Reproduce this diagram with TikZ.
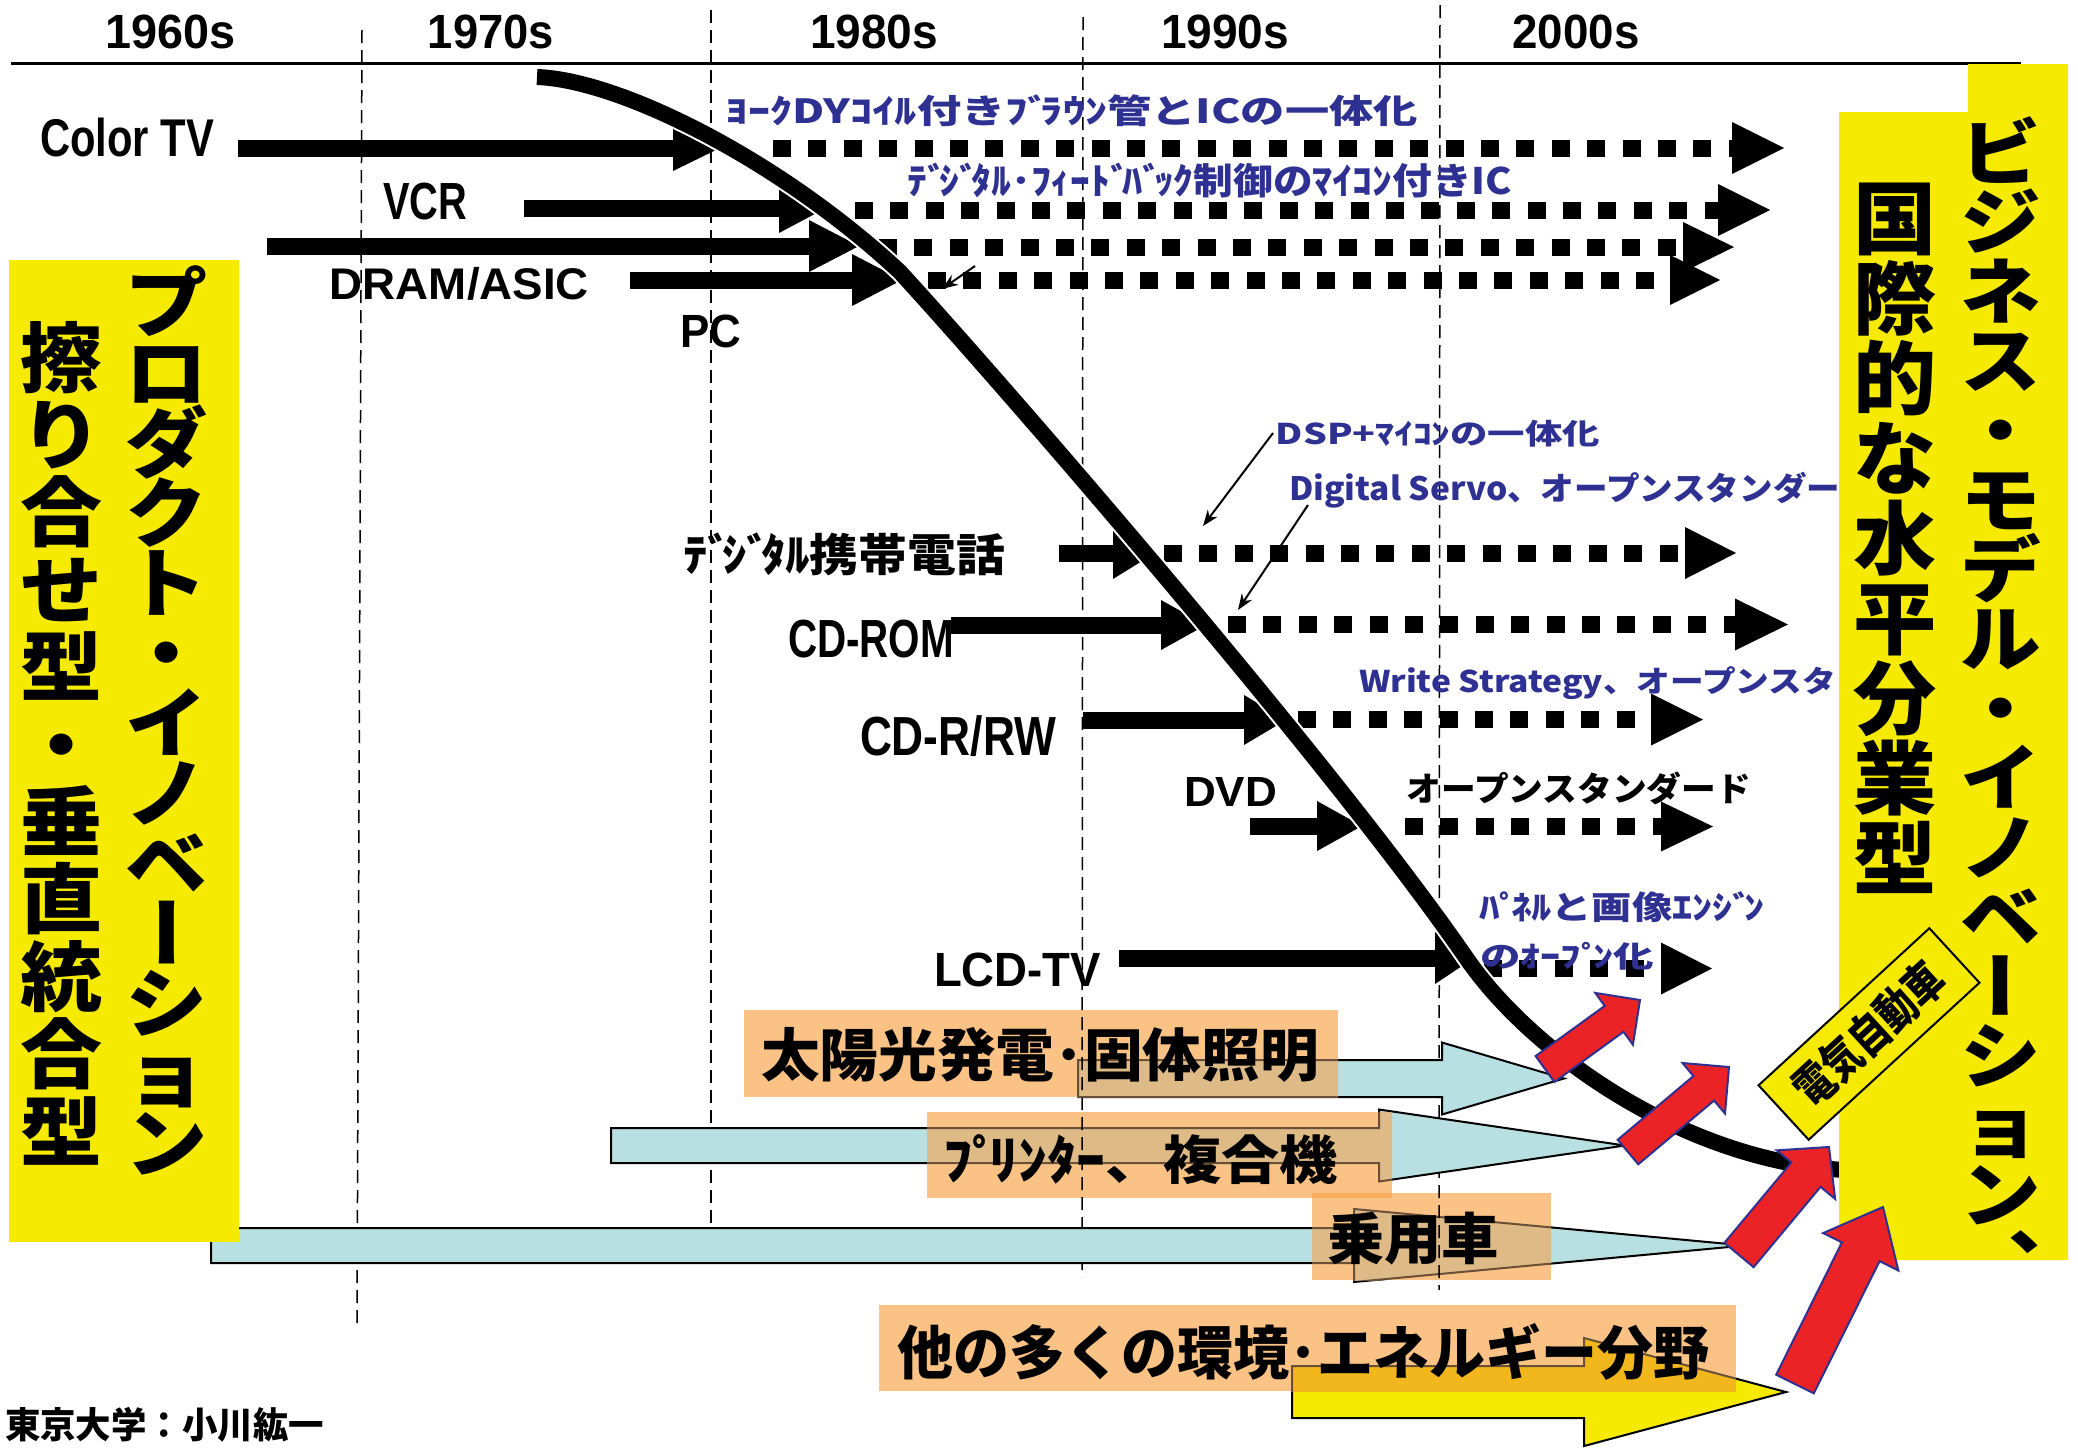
\documentclass[tikz,border=0pt]{standalone}
\usepackage{fontspec}
\setmainfont{Liberation Sans}
\newfontfamily\jp{Noto Sans CJK JP}
\usepackage{graphicx}
\usetikzlibrary{calc,arrows.meta}
\newlength\px \setlength\px{0.5pt}
\newcommand\rb[3]{\resizebox*{#1\px}{#2\px}{#3}}
\newcommand\vbar{\raisebox{0.38em}{\rotatebox[origin=c]{90}{\raisebox{-0.38em}[0.06em][0.06em]{ー}}}}
\newcommand\dk{ﾞ\kern-0.2em}
\newcommand\hk{ﾟ\kern-0.2em}
\definecolor{ybox}{RGB}{245,234,0}
\definecolor{jblue}{RGB}{46,49,146}
\definecolor{lblue}{RGB}{184,223,225}
\definecolor{orng}{RGB}{250,194,132}
\definecolor{ovtan}{RGB}{222,186,135}
\definecolor{ovyel}{RGB}{243,183,30}
\definecolor{brwn}{RGB}{105,80,55}
\definecolor{rred}{RGB}{236,35,38}
\definecolor{orngdk}{RGB}{248,172,92}
\newcommand\harrow[6]{({#1},{#4-#5}) -- ({#2},{#4-#5}) -- ({#2},{#4-#6}) -- ({#3},{#4}) -- ({#2},{#4+#6}) -- ({#2},{#4+#5}) -- ({#1},{#4+#5}) -- cycle}
\newcommand\solidarrow[5]{%
  \coordinate (#1s) at #2; \coordinate (#1h) at #3; \coordinate (#1t) at #4;
  \draw[shaft] (#1s) -- (#1h);
  \fill ($(#1h)+(0,-#5)$) -- (#1t) -- ($(#1h)+(0,#5)$) -- cycle;}
\newcommand\dotarrow[5]{%
  \coordinate (#1s) at #2; \coordinate (#1h) at #3; \coordinate (#1t) at #4;
  \draw[dshaft] (#1s) -- (#1h);
  \fill ($(#1h)+(0,-#5)$) -- (#1t) -- ($(#1h)+(0,#5)$) -- cycle;}
\newcommand\redarrow[6]{%
  \coordinate (#1T) at #2; \coordinate (#1P) at #3;
  \coordinate (#1B) at ($(#1P)!#6!(#1T)$);
  \draw[rarrow] ($(#1T)!#4!90:(#1P)$) -- ($(#1B)!#4!-90:(#1T)$) -- ($(#1B)!#5!-90:(#1T)$) -- (#1P) -- ($(#1B)!#5!90:(#1T)$) -- ($(#1B)!#4!90:(#1T)$) -- ($(#1T)!#4!-90:(#1P)$) -- cycle;}
\tikzset{
  lab/.style={inner sep=0pt, outer sep=0pt},
  vdash/.style={line width=0.75pt, dash pattern=on 6.5pt off 3.5pt},
  shaft/.style={line width=8.5pt},
  dshaft/.style={line width=8.5pt, dash pattern=on 9pt off 8.7pt},
  callout/.style={line width=1pt, -{Stealth[length=8pt,width=6pt]}},
  barrow/.style={fill=lblue, draw=black, line width=1pt},
  rarrow/.style={fill=rred, draw=jblue, line width=1pt, line join=miter},
  vtext/.style={lab, anchor=base},
}
\begin{document}
\begin{tikzpicture}[x=0.5pt,y=-0.5pt]
\useasboundingbox (0,0) rectangle (2078,1447);
\fill[white] (0,0) rectangle (2078,1447);

% decade separators
\coordinate (v1a) at (362,30);   \coordinate (v1b) at (357,1327);
\coordinate (v2a) at (711,10);   \coordinate (v2b) at (711,1268);
\coordinate (v3a) at (1083,17);  \coordinate (v3b) at (1082,1277);
\coordinate (v4a) at (1440,5);   \coordinate (v4b) at (1439,1290);
\draw[vdash] (v1a) -- (v1b);
\draw[vdash] (v2a) -- (v2b);
\draw[vdash] (v3a) -- (v3b);
\draw[vdash] (v4a) -- (v4b);

% top rule and decades
\coordinate (ruleL) at (11,63); \coordinate (ruleR) at (2021,63);
\draw[line width=1.5pt] (ruleL) -- (ruleR);
\node[lab] (d60) at (171,31.5) {\rb{130}{34}{\bfseries 1960s}};
\node[lab] (d70) at (491,31.5) {\rb{126}{34}{\bfseries 1970s}};
\node[lab] (d80) at (874,31.5) {\rb{128}{34}{\bfseries 1980s}};
\node[lab] (d90) at (1225,31.5) {\rb{128}{34}{\bfseries 1990s}};
\node[lab] (d00) at (1576,31.5) {\rb{127}{34}{\bfseries 2000s}};

% light blue and yellow block arrows
\draw[barrow] \harrow{1078}{1442}{1564}{1078.5}{18.5}{36};
\draw[barrow] \harrow{611}{1379}{1625}{1145.5}{17.5}{36};
\draw[barrow] \harrow{211}{1354}{1745}{1245.5}{17.5}{36.5};
\draw[fill=ybox, draw=black, line width=1pt] \harrow{1292}{1584}{1786}{1392}{26}{54};

% orange label boxes
\fill[orng] (744,1010) rectangle (1338,1097);
\fill[orng] (927,1112) rectangle (1392,1198);
\fill[orng] (1312,1193) rectangle (1551,1280);
\fill[orng] (879,1305) rectangle (1736,1391);
\fill[orngdk] (1312,1193) rectangle (1392,1198);
\begin{scope}
  \clip (744,1010) rectangle (1338,1097);
  \fill[ovtan] \harrow{1078}{1442}{1564}{1078.5}{18.5}{36};
  \draw[brwn, line width=1pt] \harrow{1078}{1442}{1564}{1078.5}{18.5}{36};
\end{scope}
\begin{scope}
  \clip (927,1112) rectangle (1392,1198);
  \fill[ovtan] \harrow{611}{1379}{1625}{1145.5}{17.5}{36};
  \draw[brwn, line width=1pt] \harrow{611}{1379}{1625}{1145.5}{17.5}{36};
\end{scope}
\begin{scope}
  \clip (1312,1193) rectangle (1551,1280);
  \fill[ovtan] \harrow{211}{1354}{1745}{1245.5}{17.5}{36.5};
  \draw[brwn, line width=1pt] \harrow{211}{1354}{1745}{1245.5}{17.5}{36.5};
\end{scope}
\begin{scope}
  \clip (879,1305) rectangle (1736,1391);
  \fill[ovyel] \harrow{1292}{1584}{1786}{1392}{26}{54};
  \draw[brwn, line width=1pt] \harrow{1292}{1584}{1786}{1392}{26}{54};
\end{scope}
\begin{scope}
  \clip (744,1010) rectangle (1338,1097) (927,1112) rectangle (1392,1198) (1312,1193) rectangle (1551,1280);
  \draw[vdash] (v3a) -- (v3b);
  \draw[vdash] (v4a) -- (v4b);
\end{scope}
\node[lab] (t1) at (1040,1054.5) {\rb{558}{55}{\jp\bfseries 太陽光発電･固体照明}};
\node[lab] (t2) at (1140.5,1160) {\rb{395}{50}{\jp\bfseries ﾌ\hk ﾘﾝﾀｰ、複合機}};
\node[lab] (t3) at (1413,1238.5) {\rb{172}{53}{\jp\bfseries 乗用車}};
\node[lab] (t4) at (1303,1351.5) {\rb{812}{57}{\jp\bfseries 他の多くの環境･エネルギー分野}};

% black arrows (solid part)
\solidarrow{r1}{(238,148)}{(673,148)}{(720,148)}{23}
\solidarrow{r2}{(524,208)}{(779,208)}{(826,208)}{25}
\solidarrow{r3}{(267,246)}{(809,246)}{(859,246)}{26}
\solidarrow{r4}{(630,280)}{(852,280)}{(902,280)}{26}
\solidarrow{r5}{(1059,553)}{(1113,553)}{(1155,553)}{26}
\solidarrow{r6}{(951,625)}{(1161,625)}{(1206,625)}{25}
\solidarrow{r7}{(1083,720)}{(1244,720)}{(1286,720)}{25}
\solidarrow{r8}{(1250,826)}{(1317,826)}{(1362,826)}{25}
\solidarrow{r9}{(1119,958)}{(1435,958)}{(1474,958)}{26}
% dotted continuations
\dotarrow{q1}{(773,148)}{(1732,148)}{(1784,148)}{26}
\dotarrow{q2}{(855,210)}{(1718,210)}{(1770,210)}{26}
\dotarrow{q3}{(879,247)}{(1683,247)}{(1734,247)}{25}
\dotarrow{q4}{(928,280)}{(1670,280)}{(1720,280)}{25}
\dotarrow{q5}{(1164,553)}{(1685,553)}{(1736,553)}{26}
\dotarrow{q6}{(1228,624.5)}{(1735,624.5)}{(1788,624.5)}{26}
\dotarrow{q7}{(1298,719.5)}{(1651,719.5)}{(1703,719.5)}{26}
\dotarrow{q8}{(1405,826.5)}{(1661,826.5)}{(1713,826.5)}{25}
\dotarrow{q9}{(1484,968.5)}{(1661,968.5)}{(1712,968.5)}{26}

% the big transition curve
\coordinate (cv0) at (537,77); \coordinate (cv1) at (900,272);
\coordinate (cv2) at (1467,959); \coordinate (cv3) at (1844,1170);
\draw[white, line width=10pt] (cv0) .. controls (620,80) and (780,160) .. (cv1) .. controls (990,370) and (1330,760) .. (cv2) .. controls (1530,1050) and (1680,1160) .. (cv3);
\draw[line width=8pt] (cv0) .. controls (620,80) and (780,160) .. (cv1) .. controls (990,370) and (1330,760) .. (cv2) .. controls (1530,1050) and (1680,1160) .. (cv3);

% black labels
\node[lab] (ctv) at (127,137.5) {\rb{174}{39}{\bfseries Color TV}};
\node[lab] (vcr) at (425,201.5) {\rb{84}{37}{\bfseries VCR}};
\node[lab] (dram) at (459.5,283.5) {\rb{259}{33}{\bfseries DRAM/ASIC}};
\node[lab] (pc) at (710.5,331.5) {\rb{61}{33}{\bfseries PC}};
\node[lab] (cell) at (844,554.5) {\rb{322}{43}{\jp\bfseries ﾃ\dk ｼ\dk ﾀﾙ携帯電話}};
\node[lab] (cdrom) at (871,639) {\rb{166}{38}{\bfseries CD-ROM}};
\node[lab] (cdrw) at (958,736.5) {\rb{196}{41}{\bfseries CD-R/RW}};
\node[lab] (dvd) at (1230.5,791.5) {\rb{93}{29}{\bfseries DVD}};
\node[lab] (lcd) at (1017.5,970) {\rb{167}{34}{\bfseries LCD-TV}};
\node[lab] (open) at (1579,788.5) {\rb{344}{33}{\jp\bfseries オープンスタンダード}};

% blue labels
\node[lab] (b1) at (1072,111) {\rb{692}{32}{\jp\bfseries\color{jblue}ﾖｰｸDYｺｲﾙ付きﾌ\dk ﾗｳﾝ管とICの一体化}};
\node[lab] (b2) at (1210,180.5) {\rb{604}{35}{\jp\bfseries\color{jblue}ﾃ\dk ｼ\dk ﾀﾙ･ﾌｨｰﾄ\dk ﾊ\dk ｯｸ制御のﾏｲｺﾝ付きIC}};
\node[lab] (b3) at (1438,433.5) {\rb{324}{27}{\jp\bfseries\color{jblue}DSP+ﾏｲｺﾝの一体化}};
\node[lab, anchor=west] (b4) at (1289,490) {\rb{551}{36}{\jp\bfseries\color{jblue}Digital Servo、オープンスタンダー}};
\node[lab, anchor=west] (b5) at (1359,683.5) {\rb{477}{33}{\jp\bfseries\color{jblue}Write Strategy、オープンスタ}};
\node[lab] (b6) at (1622,907.5) {\rb{286}{31}{\jp\bfseries\color{jblue}ﾊ\hk ﾈﾙと画像ｴﾝｼ\dk ﾝ}};
\node[lab] (b7) at (1567,956) {\rb{174}{28}{\jp\bfseries\color{jblue}のｵｰﾌ\hk ﾝ化}};

% callout arrows
\coordinate (c1a) at (1273,433); \coordinate (c1b) at (1203,526);
\coordinate (c2a) at (1308,505); \coordinate (c2b) at (1238,610);
\coordinate (c3a) at (975,266);  \coordinate (c3b) at (942,289);
\draw[callout] (c1a) -- (c1b);
\draw[callout] (c2a) -- (c2b);
\draw[callout] (c3a) -- (c3b);

% yellow boxes
\fill[ybox] (9,260) rectangle (239,1242);
\fill[ybox] (1968,64) -- (2068,64) -- (2068,1260) -- (1839,1260) -- (1839,112) -- (1968,112) -- cycle;

% vertical texts
\begin{scope}[every node/.style={vtext}]
\foreach \c [count=\i from 0] in {プ,ロ,ダ,ク,ト,・,イ,ノ,ベ,\vbar,シ,ョ,ン}
  \node[font=\jp\bfseries\fontsize{38pt}{38pt}\selectfont] (la\i) at (167,{331+\i*70}) {\scalebox{1.08}[1]{\c}};
\foreach \c [count=\i from 0] in {擦,り,合,せ,型,・,垂,直,統,合,型}
  \node[font=\jp\bfseries\fontsize{38pt}{38pt}\selectfont] (lb\i) at (62,{386+\i*77.4}) {\scalebox{1.08}[1]{\c}};
\foreach \c [count=\i from 0] in {国,際,的,な,水,平,分,業,型}
  \node[font=\jp\bfseries\fontsize{40pt}{40pt}\selectfont] (rb\i) at (1895,{248+\i*80}) {\scalebox{1.04}[1]{\c}};
\foreach \c [count=\i from 0] in {ビ,ジ,ネ,ス,・,モ,デ,ル,・,イ,ノ,ベ,\vbar,シ,ョ,ン,︑}
  \node[font=\jp\bfseries\fontsize{36pt}{36pt}\selectfont] (rc\i) at (2001,{179+\i*69.5}) {\scalebox{1.12}[1]{\c}};
\end{scope}

% red arrows
\redarrow{ra}{(1545,1069)}{(1640,1000)}{8pt}{16pt}{16pt}
\redarrow{rb}{(1628,1152)}{(1729,1067)}{8pt}{16.5pt}{16.5pt}
\redarrow{rc}{(1739,1255)}{(1829,1147)}{9.5pt}{19pt}{18pt}
\redarrow{rd}{(1795,1384)}{(1883,1207)}{10.5pt}{21pt}{25pt}

% electric vehicle tag
\node[draw=black, line width=1pt, fill=ybox, rotate=42.6, minimum width=116pt, minimum height=37pt, inner sep=0pt] (ev) at (1869,1034) {\rb{186}{46}{\jp\bfseries 電気自動車}};

% author
\node[lab] (auth) at (164.5,1424.5) {\rb{319}{35}{\jp\bfseries 東京大学：小川紘一}};
\end{tikzpicture}
\end{document}
